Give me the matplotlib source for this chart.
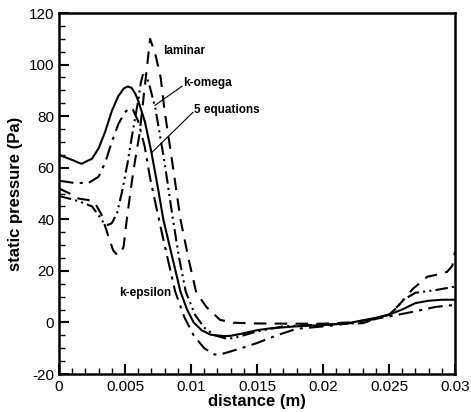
import matplotlib
matplotlib.use("Agg")
import matplotlib.pyplot as plt
from matplotlib.ticker import MultipleLocator

plt.rcParams['font.family'] = ['Liberation Sans', 'DejaVu Sans']
plt.rcParams['axes.unicode_minus'] = False

# 5 equations (solid)
x_5eq = [0, 0.001, 0.0017, 0.0025, 0.003, 0.0035, 0.004, 0.0045, 0.0049, 0.0052, 0.0055,
         0.0058, 0.006, 0.0065, 0.007, 0.0075, 0.0079, 0.0085, 0.0092, 0.0097, 0.0102,
         0.0108, 0.0115, 0.0125, 0.013, 0.014, 0.015, 0.016, 0.018, 0.0205, 0.022, 0.023,
         0.024, 0.025, 0.026, 0.027, 0.028, 0.029, 0.03]
p_5eq = [65, 63, 61.5, 63.5, 67.5, 74, 82, 87.8, 90.7, 91.5, 91,
         88.5, 86, 78, 66, 52, 40, 27, 12, 5, 0,
         -3, -4.8, -5.3, -5.2, -4.2, -3, -2.3, -1.5, -0.9, -0.2, 0.8,
         1.8, 3, 5, 7.5, 8.4, 8.8, 8.8]

# laminar (dashed)
x_lam = [0, 0.0008, 0.0015, 0.0022, 0.0027, 0.0032, 0.0037, 0.0041, 0.0044, 0.0047, 0.0049,
         0.0051, 0.0055, 0.0058, 0.0061, 0.0064, 0.0067, 0.0069, 0.0073, 0.0077, 0.008,
         0.0085, 0.0092, 0.0098, 0.0104, 0.0112, 0.0122, 0.0132, 0.015, 0.018, 0.02, 0.022,
         0.0235, 0.025, 0.0258, 0.0268, 0.0279, 0.0286, 0.0294, 0.0298, 0.03]
p_lam = [52, 50, 48, 47.5, 46.5, 42, 34, 28, 26.2, 27, 29.5,
         38.5, 54, 64, 73, 87, 100.5, 110, 104, 95, 82,
         65, 40, 25, 11.5, 5.8, 1, -0.1, -0.4, -0.5, -0.5, 0,
         1, 3, 7, 13, 17.7, 18.5, 19.6, 22, 27.5]

# k-omega (dash-dot-dot)
x_kom = [0, 0.0008, 0.0015, 0.0025, 0.003, 0.0034, 0.0037, 0.004, 0.0044, 0.0048, 0.0052,
         0.0056, 0.006, 0.0062, 0.0064, 0.0066, 0.0069, 0.0073, 0.008, 0.0086, 0.0091,
         0.0096, 0.0103, 0.011, 0.0118, 0.0127, 0.0133, 0.015, 0.017, 0.02, 0.023, 0.025,
         0.0256, 0.026, 0.027, 0.0286, 0.03]
p_kom = [49, 48, 47, 45, 41.5, 38.5, 37.8, 38.5, 42.4, 51.3, 62,
         74.5, 86, 93, 97, 96, 91, 83, 62, 41, 25,
         12, 3, -2, -5, -6.3, -6, -3.5, -1.5, -0.8, -0.3, 3,
         5.7, 8.5, 11.5, 12.6, 13.9]

# k-epsilon (dash-dot)
x_kep = [0, 0.001, 0.0022, 0.003, 0.0035, 0.004, 0.0045, 0.005, 0.0053, 0.0056, 0.006,
         0.0065, 0.0069, 0.0074, 0.008, 0.0088, 0.0095, 0.0102, 0.011, 0.0118, 0.0125,
         0.0135, 0.015, 0.0165, 0.018, 0.0205, 0.0225, 0.025, 0.027, 0.0285, 0.03]
p_kep = [55, 54.2, 54, 56.5, 62, 70, 77, 81.5, 83, 82.5, 78,
         68, 56, 44, 30, 12, 2, -5, -10, -12.5, -12,
         -10.5, -8, -5, -2.5, -1.3, 0, 2.3, 4.3, 6, 6.8]

fig = plt.figure(figsize=(4.71, 4.12), dpi=100)
ax = fig.add_axes([59/471, 1 - 374/412, 396/471, 361/412])

ax.plot(x_5eq, p_5eq, color='k', lw=1.5, ls='-')
ax.plot(x_lam, p_lam, color='k', lw=1.5, ls=(0, (6, 4)))
ax.plot(x_kom, p_kom, color='k', lw=1.5, ls=(0, (6, 2, 1, 2, 1, 2)))
ax.plot(x_kep, p_kep, color='k', lw=1.5, ls=(0, (7, 3, 1.5, 3)))

ax.set_xlim(0, 0.03)
ax.set_ylim(-20, 120)
ax.xaxis.set_major_locator(MultipleLocator(0.005))
ax.xaxis.set_minor_locator(MultipleLocator(0.001))
ax.yaxis.set_major_locator(MultipleLocator(20))
ax.yaxis.set_minor_locator(MultipleLocator(5))
ax.set_xticks([0, 0.005, 0.01, 0.015, 0.02, 0.025, 0.03])
ax.set_xticklabels(['0', '0.005', '0.01', '0.015', '0.02', '0.025', '0.03'])
ax.tick_params(which='major', direction='in', length=7, width=1.5, labelsize=11)
ax.tick_params(which='minor', direction='in', length=4, width=1)
ax.tick_params(axis='x', pad=4)
for s in ax.spines.values():
    s.set_linewidth(1.8)

ax.set_xlabel('distance (m)', fontsize=12, fontweight='bold', labelpad=0)
ax.set_ylabel('static pressure (Pa)', fontsize=12, fontweight='bold', labelpad=4)

lbl = dict(fontsize=8.5, fontweight='bold', va='center', ha='left')
ax.text(0.0079, 105.2, 'laminar', **lbl)
ax.text(0.0094, 93, 'k-omega', **lbl)
ax.text(0.0102, 82.5, '5 equations', **lbl)
ax.text(0.00455, 11.3, 'k-epsilon', **lbl)
ax.plot([0.00932, 0.00727], [91.6, 84.2], color='k', lw=0.8)
ax.plot([0.01015, 0.00705], [81.5, 66], color='k', lw=0.8)

fig.savefig('out.png', dpi=100)
